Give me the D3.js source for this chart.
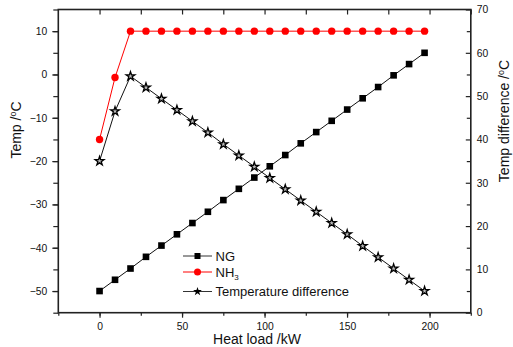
<!DOCTYPE html>
<html>
<head>
<meta charset="utf-8">
<script src="https://cdn.jsdelivr.net/npm/d3@7"></script>
<style>
  html, body { margin: 0; padding: 0; background: #fff; }
  svg { display: block; font-family: "Liberation Sans", Arial, sans-serif; }
</style>
</head>
<body>
<svg id="chart" width="513" height="347"></svg>
<script>
// ---- data ----
const heatLoad = [0, 9.38, 18.76, 28.14, 37.52, 46.9, 56.28, 65.66, 75.04, 84.42, 93.8,
                  103.18, 112.56, 121.94, 131.32, 140.7, 150.08, 159.46, 168.84, 178.22, 187.6, 196.98];
const ngTemp = [-50, -47.4, -44.8, -42.1, -39.5, -36.9, -34.3, -31.7, -29.0, -26.4, -23.8,
                -21.2, -18.6, -15.9, -13.3, -10.7, -8.1, -5.5, -2.9, -0.2, 2.4, 5.0];
const nh3Temp = [-15, -0.7, 10, 10, 10, 10, 10, 10, 10, 10, 10,
                 10, 10, 10, 10, 10, 10, 10, 10, 10, 10, 10];
const tempDiff = [35, 46.5, 54.6, 52.0, 49.4, 46.8, 44.2, 41.6, 38.9, 36.3, 33.7,
                  31.1, 28.5, 25.9, 23.3, 20.7, 18.1, 15.4, 12.8, 10.2, 7.6, 5.0];
const xTicks = [0, 50, 100, 150, 200];
const yLeftTicks = [-50, -40, -30, -20, -10, 0, 10];
const yRightTicks = [0, 10, 20, 30, 40, 50, 60, 70];
const seriesNames = ["NG", "NH3", "Temperature difference"];

// ---- layout ----
const svg = d3.select("#chart");
const L = 58.3, R = 470.8, T = 9.5, B = 312.7;

const x = d3.scaleLinear().domain([-25, 225]).range([L, R]);
const yL = d3.scaleLinear().domain([-55, 15]).range([B, T]);
const yR = d3.scaleLinear().domain([0, 70]).range([B, T]);

const axisColor = "#222";

// bottom axis minor + major
const gB = svg.append("g").attr("transform", `translate(0,${B})`);
gB.call(d3.axisBottom(x).tickValues(d3.range(-25, 226, 25)).tickSize(3).tickFormat(""));
const gBm = svg.append("g").attr("transform", `translate(0,${B})`);
gBm.call(d3.axisBottom(x).tickValues(xTicks).tickSize(5).tickPadding(4.5).tickFormat(d3.format("d")));
// top axis (inward)
const gT = svg.append("g").attr("transform", `translate(0,${T})`);
gT.call(d3.axisBottom(x).tickValues(d3.range(0, 226, 25)).tickSize(5).tickFormat(""));
// left axis
const gLm = svg.append("g").attr("transform", `translate(${L},0)`);
gLm.call(d3.axisLeft(yL).tickValues(d3.range(-55, 16, 5)).tickSize(5).tickFormat(""));
const gL = svg.append("g").attr("transform", `translate(${L},0)`);
gL.call(d3.axisLeft(yL).tickValues(yLeftTicks).tickSize(6).tickPadding(5).tickFormat(d3.format("d")));
// right axis (ticks inward)
const gRm = svg.append("g").attr("transform", `translate(${R},0)`);
gRm.call(d3.axisLeft(yR).tickValues(d3.range(5, 70, 10)).tickSize(4).tickFormat(""));
const gR = svg.append("g").attr("transform", `translate(${R},0)`);
gR.call(d3.axisRight(yR).tickValues(yRightTicks).tickSize(0).tickPadding(6).tickFormat(d3.format("d")));
gR.selectAll(".tick").append("line").attr("x1", -5).attr("x2", 0).attr("stroke", axisColor).attr("stroke-width", 1.2);

svg.selectAll(".domain").remove();
svg.selectAll(".tick line").attr("stroke", axisColor).attr("stroke-width", 1.2);
svg.selectAll(".tick text").attr("font-size", 10.3).attr("fill", "#111")
   .attr("font-family", "Liberation Sans, Arial, sans-serif");

// frame
svg.append("rect").attr("x", L).attr("y", T).attr("width", R - L).attr("height", B - T)
   .attr("fill", "none").attr("stroke", axisColor).attr("stroke-width", 1.6);

// ---- series ----
const g = svg.append("g");
const lineL = (ys) => d3.line().x((d, i) => x(heatLoad[i])).y((d) => yL(d))(ys);
const lineR = d3.line().x((d, i) => x(heatLoad[i])).y((d) => yR(d));

g.append("path").attr("d", lineL(ngTemp)).attr("fill", "none").attr("stroke", "#111").attr("stroke-width", 1);
g.append("path").attr("d", lineL(nh3Temp)).attr("fill", "none").attr("stroke", "#ff0000").attr("stroke-width", 1);
g.append("path").attr("d", lineR(tempDiff)).attr("fill", "none").attr("stroke", "#111").attr("stroke-width", 1);

const sq = 6.6;
g.selectAll("rect.ng").data(ngTemp).join("rect").attr("class", "ng")
  .attr("x", (d, i) => x(heatLoad[i]) - sq / 2).attr("y", d => yL(d) - sq / 2)
  .attr("width", sq).attr("height", sq).attr("fill", "#000");

g.selectAll("circle.nh3").data(nh3Temp).join("circle").attr("class", "nh3")
  .attr("cx", (d, i) => x(heatLoad[i])).attr("cy", d => yL(d)).attr("r", 3.7).attr("fill", "#ff0000");

const star = d3.symbol().type(d3.symbolStar).size(24);
g.selectAll("path.td").data(tempDiff).join("path").attr("class", "td")
  .attr("d", star).attr("transform", (d, i) => `translate(${x(heatLoad[i])},${yR(d)})`)
  .attr("fill", "#bbb").attr("stroke", "#000").attr("stroke-width", 1.3);

// ---- legend ----
const lg = svg.append("g").attr("font-size", 13).attr("fill", "#111");
const legRows = [
  { y: 256, color: "#333", mark: "sq" },
  { y: 272, color: "#ff0000", mark: "circle" },
  { y: 291.5, color: "#333", mark: "star" }
];
legRows.forEach((r, i) => {
  lg.append("line").attr("x1", 183).attr("x2", 212).attr("y1", r.y).attr("y2", r.y)
    .attr("stroke", r.color).attr("stroke-width", 1);
  if (r.mark === "sq") lg.append("rect").attr("x", 197.5 - 3).attr("y", r.y - 3).attr("width", 6).attr("height", 6).attr("fill", "#000");
  if (r.mark === "circle") lg.append("circle").attr("cx", 197.5).attr("cy", r.y).attr("r", 3.5).attr("fill", "#ff0000");
  if (r.mark === "star") lg.append("path").attr("d", d3.symbol().type(d3.symbolStar).size(24)).attr("transform", `translate(197.5,${r.y})`).attr("fill", "#000");
});
lg.append("text").attr("x", 215.5).attr("y", 256 + 4.6).text(seriesNames[0]);
const nh3Text = lg.append("text").attr("x", 215.5).attr("y", 272 + 4.6);
nh3Text.append("tspan").text("NH");
nh3Text.append("tspan").attr("font-size", 8).attr("dy", 3).text("3");
lg.append("text").attr("x", 215.5).attr("y", 291.5 + 4.6).text(seriesNames[2]);

// ---- axis titles ----
svg.append("text").attr("x", 257).attr("y", 344).attr("text-anchor", "middle")
  .attr("font-size", 14).attr("fill", "#111").text("Heat load /kW");

const tl = svg.append("text").attr("transform", "translate(20.5,130) rotate(-90)")
  .attr("text-anchor", "middle").attr("font-size", 14).attr("fill", "#111");
tl.append("tspan").text("Temp /");
tl.append("tspan").attr("font-size", 9).attr("dy", -5).text("o");
tl.append("tspan").attr("dy", 5).text("C");

const tr = svg.append("text").attr("transform", "translate(509,121) rotate(-90)")
  .attr("text-anchor", "middle").attr("font-size", 14).attr("fill", "#111");
tr.append("tspan").text("Temp difference /");
tr.append("tspan").attr("font-size", 9).attr("dy", -5).text("o");
tr.append("tspan").attr("dy", 5).text("C");
</script>
</body>
</html>
